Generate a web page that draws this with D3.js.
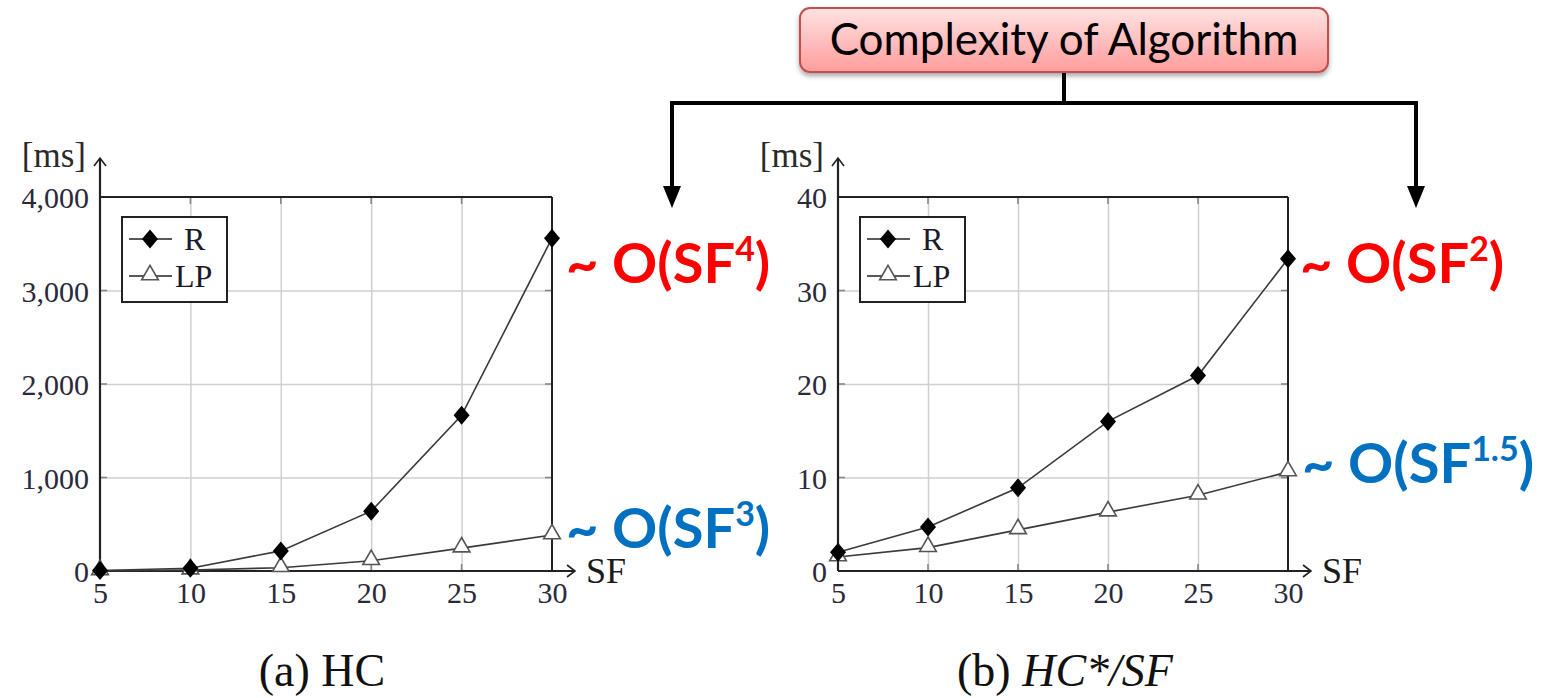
<!DOCTYPE html>
<html lang="en">
<head>
  <meta charset="utf-8" />
  <title>Complexity of Algorithm</title>
  <script src="https://d3js.org/d3.v7.min.js"></script>
  <style>
    body { margin: 0; background: #fff; }
    svg text { font-family: "Liberation Serif", "DejaVu Serif", serif; }
    .grid line { stroke: #cfcfcf; stroke-width: 1.5px; }
    .grid path { display: none; }
    .tick text { fill: #2a2a3a; font-size: 30px; }
    .note { font-family: Lato, "Noto Sans", sans-serif !important; font-weight: 700; }
  </style>
</head>
<body>
<svg id="chart" width="1554" height="698"></svg>
<script>
// data
var sf = [5, 10, 15, 20, 25, 30];
var hcR  = [5, 30, 215, 640, 1665, 3560];
var hcLP = [2, 10, 35, 110, 245, 385];
var hcsR  = [2.0, 4.7, 8.9, 16.0, 20.9, 33.4];
var hcsLP = [1.5, 2.5, 4.4, 6.3, 8.1, 10.6];
var hcTicks  = [0, 1000, 2000, 3000, 4000];
var hcsTicks = [0, 10, 20, 30, 40];
var seriesNames = ["R", "LP"];

var svg = d3.select("#chart");

var defs = svg.append("defs");
var grad = defs.append("linearGradient").attr("id", "boxfill")
  .attr("x1", 0).attr("y1", 0).attr("x2", 0).attr("y2", 1);
grad.append("stop").attr("offset", "0%").attr("stop-color", "#ffe3e3");
grad.append("stop").attr("offset", "100%").attr("stop-color", "#ff9c9c");
var sh = defs.append("filter").attr("id", "shadow")
  .attr("x", "-10%").attr("y", "-20%").attr("width", "120%").attr("height", "150%");
sh.append("feDropShadow").attr("dx", 0).attr("dy", 3).attr("stdDeviation", 2.5)
  .attr("flood-color", "#000").attr("flood-opacity", 0.35);

var diamond = "M0,-9.5 L8,0 L0,9.5 L-8,0 Z";
var tri = d3.symbol().type(d3.symbolTriangle).size(120);

drawPanel(100, 197, 452, 374, [0, 4000], hcTicks, d3.format(","), hcR, hcLP);
drawPanel(838, 197, 450, 374, [0, 40], hcsTicks, d3.format("d"), hcsR, hcsLP);

function drawPanel(left, top, width, height, ydom, yticks, yfmt, rVals, lpVals) {
  var g = svg.append("g").attr("transform", "translate(" + left + "," + top + ")");
  var x = d3.scaleLinear().domain([5, 30]).range([0, width]);
  var y = d3.scaleLinear().domain(ydom).range([height, 0]);

  // grid
  g.append("g").attr("class", "grid")
    .call(d3.axisBottom(x).tickValues(sf.slice(1, -1)).tickSize(height).tickFormat(""));
  g.append("g").attr("class", "grid")
    .call(d3.axisLeft(y).tickValues(yticks.slice(1, -1)).tickSize(-width).tickFormat(""));

  // small tick marks along the frame
  sf.slice(1, -1).forEach(function(v) {
    g.append("line").attr("x1", x(v)).attr("x2", x(v)).attr("y1", 0).attr("y2", 7).attr("stroke", "#888").attr("stroke-width", 1.6);
    g.append("line").attr("x1", x(v)).attr("x2", x(v)).attr("y1", height).attr("y2", height - 7).attr("stroke", "#888").attr("stroke-width", 1.6);
  });
  yticks.slice(1, -1).forEach(function(v) {
    g.append("line").attr("x1", 0).attr("x2", 7).attr("y1", y(v)).attr("y2", y(v)).attr("stroke", "#888").attr("stroke-width", 1.6);
    g.append("line").attr("x1", width).attr("x2", width - 7).attr("y1", y(v)).attr("y2", y(v)).attr("stroke", "#888").attr("stroke-width", 1.6);
  });

  // frame
  g.append("line").attr("x1", 0).attr("x2", width).attr("y1", 0).attr("y2", 0)
    .attr("stroke", "#222").attr("stroke-width", 2);
  g.append("line").attr("x1", width).attr("x2", width).attr("y1", 0).attr("y2", height)
    .attr("stroke", "#222").attr("stroke-width", 2);

  // tick labels
  var xa = g.append("g").attr("transform", "translate(0," + height + ")")
    .call(d3.axisBottom(x).tickValues(sf).tickSize(0).tickPadding(11));
  xa.select(".domain").remove();
  xa.selectAll("text").attr("dy", "0.71em");
  var ya = g.append("g")
    .call(d3.axisLeft(y).tickValues(yticks).tickFormat(yfmt).tickSize(0).tickPadding(11));
  ya.select(".domain").remove();
  ya.selectAll("text").attr("dy", "0.35em");

  // axes with arrows
  g.append("line").attr("x1", 0).attr("x2", 0).attr("y1", height).attr("y2", -38)
    .attr("stroke", "#222").attr("stroke-width", 2.2);
  g.append("path").attr("d", "M-6,-31 L0,-39 L6,-31").attr("fill", "none")
    .attr("stroke", "#222").attr("stroke-width", 1.6);
  g.append("line").attr("x1", 0).attr("x2", width + 22).attr("y1", height).attr("y2", height)
    .attr("stroke", "#222").attr("stroke-width", 2.2);
  g.append("path").attr("d", "M" + (width + 15) + "," + (height - 6) + " L" + (width + 23) + "," + height +
      " L" + (width + 15) + "," + (height + 6)).attr("fill", "none")
    .attr("stroke", "#222").attr("stroke-width", 1.6);
  g.append("text").attr("x", -14).attr("y", -30).attr("text-anchor", "end")
    .attr("font-size", 35).attr("fill", "#2a2a2a").text("[ms]");
  g.append("text").attr("x", width + 34).attr("y", height + 12)
    .attr("font-size", 36).attr("fill", "#1a1a1a").text("SF");

  // series
  var line = d3.line().x(function(d, i) { return x(sf[i]); }).y(function(d) { return y(d); });
  g.append("path").datum(lpVals).attr("d", line).attr("fill", "none")
    .attr("stroke", "#3a3a3a").attr("stroke-width", 1.6);
  g.append("path").datum(rVals).attr("d", line).attr("fill", "none")
    .attr("stroke", "#3a3a3a").attr("stroke-width", 1.6);

  g.selectAll(".lp").data(lpVals).enter().append("path")
    .attr("transform", function(d, i) { return "translate(" + x(sf[i]) + "," + (y(d) - 1) + ")"; })
    .attr("d", tri).attr("fill", "#fff").attr("stroke", "#555").attr("stroke-width", 1.6);
  g.selectAll(".r").data(rVals).enter().append("path")
    .attr("transform", function(d, i) { return "translate(" + x(sf[i]) + "," + y(d) + ")"; })
    .attr("d", diamond).attr("fill", "#000");

  // legend
  var lg = g.append("g").attr("transform", "translate(22,20)");
  lg.append("rect").attr("width", 105).attr("height", 85).attr("fill", "#fff")
    .attr("stroke", "#222").attr("stroke-width", 2);
  seriesNames.forEach(function(name, i) {
    var yy = 22 + i * 37;
    lg.append("line").attr("x1", 7).attr("x2", 50).attr("y1", yy).attr("y2", yy)
      .attr("stroke", "#222").attr("stroke-width", 1.6);
    if (i === 0) {
      lg.append("path").attr("transform", "translate(28," + yy + ")").attr("d", diamond).attr("fill", "#000");
      lg.append("text").attr("x", 62).attr("y", yy + 11).attr("font-size", 32).attr("fill", "#1a1a2a").text(name);
    } else {
      lg.append("path").attr("transform", "translate(28," + (yy - 1) + ")").attr("d", tri)
        .attr("fill", "#fff").attr("stroke", "#555").attr("stroke-width", 1.6);
      lg.append("text").attr("x", 53).attr("y", yy + 11).attr("font-size", 32).attr("fill", "#1a1a2a").text(name);
    }
  });
}

// complexity notes
function note(xp, yp, color, sup) {
  var t = svg.append("text").attr("class", "note").attr("x", xp).attr("y", yp)
    .attr("fill", color).attr("font-size", 56);
  t.append("tspan").text("~ O(SF");
  t.append("tspan").attr("font-size", 34).attr("dy", -22).text(sup);
  t.append("tspan").attr("dy", 22).text(")");
}
note(566, 283, "#ff0000", "4");
note(566, 548, "#0070c0", "3");
note(1300, 283, "#ff0000", "2");
note(1302, 483, "#0070c0", "1.5");

// top box and connectors
svg.append("line").attr("x1", 1064).attr("x2", 1064).attr("y1", 70).attr("y2", 103)
  .attr("stroke", "#000").attr("stroke-width", 4);
svg.append("line").attr("x1", 670).attr("x2", 1418).attr("y1", 103).attr("y2", 103)
  .attr("stroke", "#000").attr("stroke-width", 4);
[672, 1416].forEach(function(ax) {
  svg.append("line").attr("x1", ax).attr("x2", ax).attr("y1", 101).attr("y2", 192)
    .attr("stroke", "#000").attr("stroke-width", 4);
  svg.append("path").attr("d", "M" + (ax - 9) + ",186 L" + (ax + 9) + ",186 L" + ax + ",208 Z")
    .attr("fill", "#000");
});
svg.append("rect").attr("x", 800).attr("y", 8).attr("width", 528).attr("height", 64)
  .attr("rx", 10).attr("fill", "url(#boxfill)").attr("stroke", "#c0504d").attr("stroke-width", 2)
  .attr("filter", "url(#shadow)");
svg.append("text").attr("class", "note").attr("x", 1064).attr("y", 55).attr("text-anchor", "middle")
  .attr("font-size", 44).style("font-weight", 400).attr("fill", "#000")
  .text("Complexity of Algorithm");

// captions
svg.append("text").attr("x", 322).attr("y", 686).attr("text-anchor", "middle")
  .attr("font-size", 46).attr("fill", "#111").text("(a) HC");
var cb = svg.append("text").attr("x", 1065).attr("y", 686).attr("text-anchor", "middle")
  .attr("font-size", 46).attr("fill", "#111");
cb.append("tspan").text("(b) ");
cb.append("tspan").attr("font-style", "italic").text("HC*/SF");
</script>
</body>
</html>
